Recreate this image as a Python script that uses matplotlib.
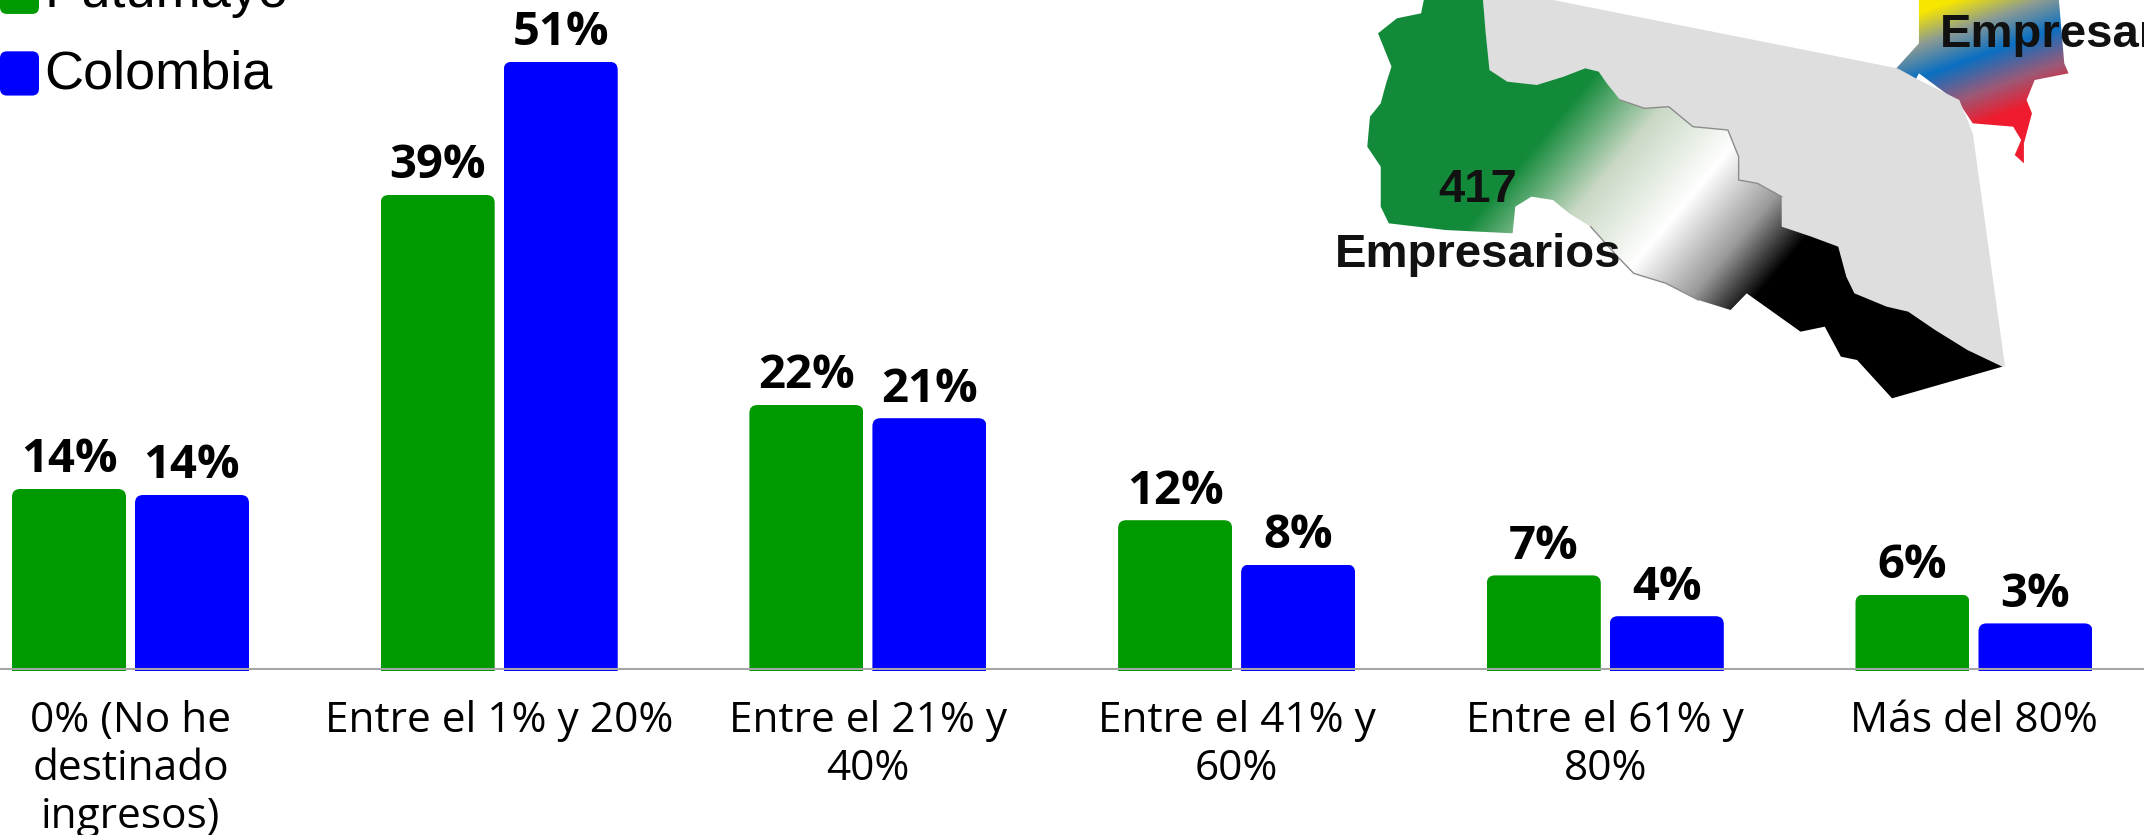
import numpy as np
import matplotlib
matplotlib.use("Agg")
import matplotlib.pyplot as plt
from matplotlib.colors import LinearSegmentedColormap
from matplotlib.legend_handler import HandlerPatch
from matplotlib.patches import FancyBboxPatch, Patch, Polygon

categories = ["0% (No he\ndestinado\ningresos)", "Entre el 1% y 20%", "Entre el 21% y\n40%",
              "Entre el 41% y\n60%", "Entre el 61% y\n80%", "Más del 80%"]
putumayo = [15.0, 39.5, 22.0, 12.4, 7.8, 6.2]
colombia = [14.5, 50.6, 20.9, 8.7, 4.4, 3.8]
putumayo_labels = ["14%", "39%", "22%", "12%", "7%", "6%"]
colombia_labels = ["14%", "51%", "21%", "8%", "4%", "3%"]

GREEN = "#009900"
BLUE = "#0000FF"
W, H = 2144, 835
GROUP = 368.7   # px between groups
PX_Y = 12.0     # px per percent
BASE = 669
UNDER = 2 / PX_Y  # bars run a little under the axis line

gray_outline = [(340, 0), (470, 0), (1110, 205), (1150, 240), (1225, 300), (1250, 400), (1310, 1100), (1150, 1100),
                (900, 800), (700, 500), (500, 300), (345, 250)]
put_outline = [(230, 0), (340, 0), (345, 100), (352, 210), (385, 245), (440, 255), (490, 230), (530, 205), (555, 215),
               (570, 250), (595, 300), (640, 325), (685, 320), (730, 380), (795, 390), (815, 470), (815, 540), (850, 550),
               (895, 590), (895, 680), (950, 710), (1000, 740), (1015, 830), (1030, 880), (1090, 920), (1130, 935),
               (1180, 990), (1240, 1050), (1305, 1100), (1100, 1195), (1035, 1080), (1005, 1070), (975, 980), (930, 995),
               (830, 880), (800, 930), (740, 900), (680, 850), (620, 820), (590, 770), (540, 680), (500, 640), (470, 600),
               (430, 590), (400, 620), (395, 700), (270, 690), (165, 670), (150, 620), (150, 500), (125, 440), (130, 350),
               (150, 310), (160, 250), (170, 200), (145, 100), (180, 55), (225, 40)]
col_outline = [(1150, 0), (1410, 0), (1420, 190), (1428, 220), (1365, 240), (1350, 300), (1360, 340), (1345, 430),
               (1345, 490), (1328, 465), (1340, 420), (1325, 380), (1250, 370), (1225, 310), (1150, 220), (1140, 250),
               (1105, 210), (1150, 130)]


def to_px(points):
    return np.array(points) / [1.858, 3.0] + [1300, 0]


def gradient_fill(ax, outline, normal, stops, zorder):
    pts = to_px(outline)
    x0, y0 = pts.min(axis=0)
    x1, y1 = pts.max(axis=0)
    xx, yy = np.meshgrid(np.arange(x0, x1 + 1), np.arange(y0, y1 + 1))
    tt = xx * normal[0] + yy * normal[1]
    lo, hi = stops[0][0], stops[-1][0]
    cmap = LinearSegmentedColormap.from_list("m", [((t - lo) / (hi - lo), c) for t, c in stops])
    im = ax.imshow(tt, extent=(x0, x1 + 1, y1 + 1, y0), cmap=cmap, vmin=lo, vmax=hi, aspect="auto",
                   interpolation="bilinear", zorder=zorder)
    poly = Polygon(pts, closed=True, transform=ax.transData)
    im.set_clip_path(poly)


def round_handle(legend, orig_handle, xdescent, ydescent, width, height, fontsize):
    return FancyBboxPatch((-xdescent, -ydescent - 2.5), width, height, boxstyle="round,pad=0,rounding_size=5",
                          facecolor=orig_handle.get_facecolor(), edgecolor="none")


fig = plt.figure(figsize=(W / 100, H / 100), dpi=100)
ax = fig.add_axes([0, 1 - BASE / H, 1, BASE / H])

x = np.arange(len(categories))
bars1 = ax.bar(x - 123 / GROUP / 2, np.array(putumayo) + UNDER, 114 / GROUP, bottom=-UNDER, color=GREEN, label="Putumayo")
bars2 = ax.bar(x + 123 / GROUP / 2, np.array(colombia) + UNDER, 114 / GROUP, bottom=-UNDER, color=BLUE, label="Colombia")

ax.set_xlim(-130.5 / GROUP, (W - 130.5) / GROUP)
ax.set_ylim(0, BASE / PX_Y)

# rounded top corners, square at the foot
for bar in list(bars1) + list(bars2):
    box = FancyBboxPatch((bar.get_x(), -2), bar.get_width(), bar.get_height() + 2 - UNDER,
                         boxstyle="round,pad=0,rounding_size=%f" % (8 / GROUP),
                         mutation_aspect=(8 / PX_Y) / (8 / GROUP), transform=ax.transData)
    bar.set_clip_box(None)
    bar.set_clip_path(box)

for bars, labels in ((bars1, putumayo_labels), (bars2, colombia_labels)):
    for bar, lab in zip(bars, labels):
        ax.annotate(lab, (bar.get_x() + bar.get_width() / 2, bar.get_y() + bar.get_height()), xytext=(0, 4),
                    textcoords="offset points", ha="center", va="bottom",
                    fontsize=34, fontweight="bold", family="Open Sans", annotation_clip=False)

for s in ("top", "left", "right"):
    ax.spines[s].set_visible(False)
ax.spines["bottom"].set_color("#A6A6A6")
ax.spines["bottom"].set_linewidth(1.5)
ax.set_yticks([])
ax.set_xticks(x)
ax.set_xticklabels(categories, fontsize=30.5, family="Open Sans", color="black", linespacing=1.2)
ax.tick_params(axis="x", length=0, pad=22)

ax.legend(handles=[Patch(facecolor=GREEN, label="Putumayo"), Patch(facecolor=BLUE, label="Colombia")],
          loc="upper left", bbox_to_anchor=(0, 1.0505), frameon=False, borderpad=0, borderaxespad=0,
          prop={"family": "Liberation Sans", "size": 39}, handlelength=0.72, handleheight=0.88,
          handletextpad=0.1, labelspacing=0.55, handler_map={Patch: HandlerPatch(patch_func=round_handle)})

# map inset, drawn in figure pixels
art = fig.add_axes([0, 0, 1, 1], facecolor="none")
gradient_fill(art, col_outline, (0.34, 0.94), [(665, "#F7E600"), (695, "#8A9A94"), (726, "#0A6FC2"), (760, "#9A5A78"), (789, "#EE1C2E")], 1)
art.add_patch(Polygon(to_px(gray_outline), closed=True, facecolor="#DEDEDF", edgecolor="none", zorder=2))
gradient_fill(art, put_outline, (0.768, 0.642), [(1272, "#128A3A"), (1345, "#C9D8C4"), (1425, "#FFFFFF"), (1490, "#9A9A9A"), (1540, "#000000")], 3)
edge = to_px(put_outline)
art.plot(edge[10:19, 0], edge[10:19, 1], color="#8C8C8C", lw=1, zorder=4)
art.plot(edge[36:41, 0], edge[36:41, 1], color="#8C8C8C", lw=1, zorder=4)
art.text(1478, 202, "417", fontsize=34, fontweight="bold", family="Liberation Sans", ha="center", va="baseline", color="#111111", zorder=5)
art.text(1478, 267, "Empresarios", fontsize=34, fontweight="bold", family="Liberation Sans", ha="center", va="baseline", color="#111111", zorder=5)
art.text(1940, 47, "Empresarios", fontsize=34, fontweight="bold", family="Liberation Sans", ha="left", va="baseline", color="#111111", clip_on=False, zorder=5)
art.set_xlim(0, W)
art.set_ylim(H, 0)
art.axis("off")

fig.savefig("out.png", dpi=100)
